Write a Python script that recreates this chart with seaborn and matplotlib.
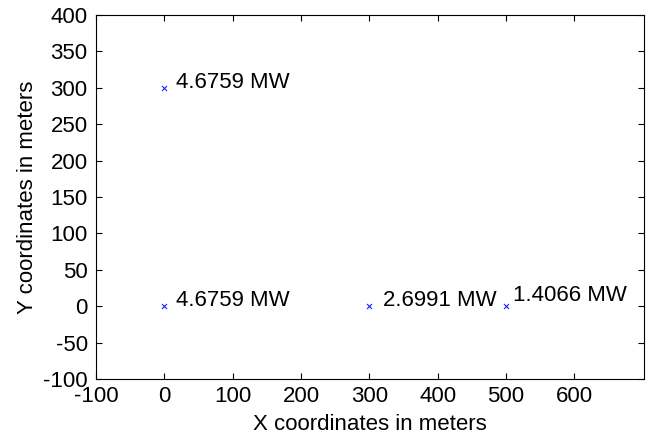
import pandas as pd
from matplotlib import pyplot as plt
import seaborn as sns

x_m = [0, 0, 300, 500]
y_m = [300, 0, 0, 0]
power = ['4.6759 MW', '4.6759 MW', '2.6991 MW', '1.4066 MW']
# label offsets (data units), text baseline
dx = [17, 17, 20, 10]
dy = [0, 0, 0, 7]

xticks = [-100, 0, 100, 200, 300, 400, 500, 600]
yticks = [-100, -50, 0, 50, 100, 150, 200, 250, 300, 350, 400]

df = pd.DataFrame({'x': x_m, 'y': y_m})

sns.set_style('ticks')
plt.rcParams['font.family'] = ['Liberation Sans', 'DejaVu Sans']
plt.rcParams['font.size'] = 16
plt.rcParams['axes.unicode_minus'] = False
plt.rcParams['text.color'] = 'black'
plt.rcParams['axes.labelcolor'] = 'black'

fig = plt.figure(figsize=(6.52, 4.38), dpi=100)
ax = fig.add_axes([96 / 652, 1 - 379 / 438, 548 / 652, 364 / 438])

sns.scatterplot(x='x', y='y', data=df, marker='x', color='#2020ff',
                s=13, linewidth=0.8, ax=ax)

for xi, yi, lab, ox, oy in zip(x_m, y_m, power, dx, dy):
    ax.text(xi + ox, yi + oy, lab, va='baseline', ha='left', fontsize=16,
            color='black')

ax.set_xlim(-100, 702)
ax.set_ylim(-100, 400)
ax.set_xticks(xticks)
ax.set_yticks(yticks)
ax.tick_params(direction='in', length=4, width=0.8, labelsize=16,
               top=True, right=True, colors='black')
ax.tick_params(axis='x', pad=5)
ax.tick_params(axis='y', pad=6)
for sp in ax.spines.values():
    sp.set_visible(True)
    sp.set_color('black')
    sp.set_linewidth(0.8)

ax.set_xlabel('X coordinates in meters', fontsize=16, va='top')
ax.set_ylabel('Y coordinates in meters', fontsize=16)
ax.xaxis.set_label_coords(0.5, -0.096)
ax.yaxis.set_label_coords(-0.106, 0.5)

fig.savefig('out.png', dpi=100)
